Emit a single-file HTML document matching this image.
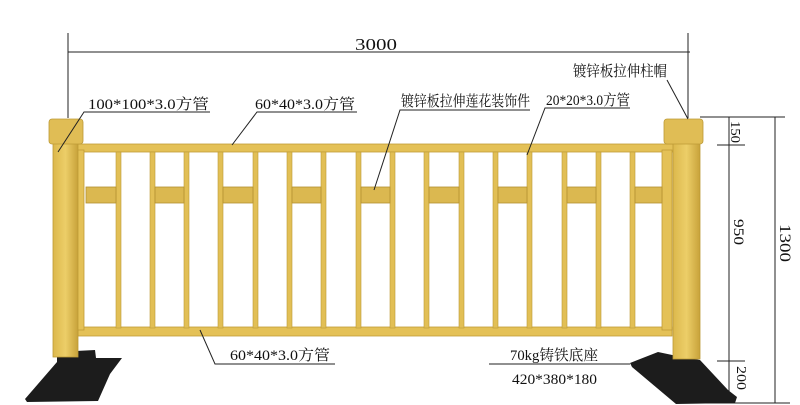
<!DOCTYPE html>
<html><head><meta charset="utf-8"><style>
html,body{margin:0;padding:0;background:#fff;}
svg{display:block}
text{font-family:"Liberation Serif","Noto Serif CJK SC","Noto Sans CJK SC",serif;fill:#111;}
</style></head><body>
<svg width="800" height="405" viewBox="0 0 800 405" xmlns="http://www.w3.org/2000/svg">
<defs>
<linearGradient id="post" x1="0" x2="1"><stop offset="0" stop-color="#dcb84c"/><stop offset="0.5" stop-color="#ecce68"/><stop offset="1" stop-color="#c8a23a"/></linearGradient>
</defs>
<g stroke="#222" stroke-width="1" fill="none">
<line x1="68" y1="33" x2="68" y2="118"/>
<line x1="688" y1="33" x2="688" y2="118"/>
<line x1="68" y1="52" x2="690" y2="52"/>
<line x1="700" y1="117" x2="785" y2="117"/>
<line x1="729" y1="117" x2="729" y2="403"/>
<line x1="775" y1="117" x2="775" y2="403"/>
<line x1="717" y1="145" x2="745" y2="145"/>
<line x1="717" y1="361" x2="745" y2="361"/>
<line x1="700" y1="403" x2="790" y2="403"/>
</g>
<text x="355" y="50" font-size="17" font-family="Liberation Sans" textLength="42" lengthAdjust="spacingAndGlyphs">3000</text>
<text transform="translate(731,121) rotate(90)" font-size="14" textLength="22" lengthAdjust="spacingAndGlyphs">150</text>
<text transform="translate(734,219) rotate(90)" font-size="15" textLength="26" lengthAdjust="spacingAndGlyphs">950</text>
<text transform="translate(780,224) rotate(90)" font-size="16" textLength="38" lengthAdjust="spacingAndGlyphs">1300</text>
<text transform="translate(737,366) rotate(90)" font-size="14" textLength="24" lengthAdjust="spacingAndGlyphs">200</text>

<g fill="#e4c157" stroke="#c09c36" stroke-width="0.8">
<rect x="76" y="144" width="598" height="8"/>
<rect x="78" y="327" width="594" height="9"/>
<rect x="77" y="150" width="7" height="180"/>
<rect x="662" y="150" width="10" height="180"/>
</g>
<g fill="#e2bf55" stroke="#bd9a36" stroke-width="0.6">
<rect x="116" y="152" width="5" height="176"/>
<rect x="150" y="152" width="5" height="176"/>
<rect x="184" y="152" width="5" height="176"/>
<rect x="218" y="152" width="5" height="176"/>
<rect x="253" y="152" width="5" height="176"/>
<rect x="287" y="152" width="5" height="176"/>
<rect x="321" y="152" width="5" height="176"/>
<rect x="356" y="152" width="5" height="176"/>
<rect x="390" y="152" width="5" height="176"/>
<rect x="424" y="152" width="5" height="176"/>
<rect x="459" y="152" width="5" height="176"/>
<rect x="493" y="152" width="5" height="176"/>
<rect x="527" y="152" width="5" height="176"/>
<rect x="562" y="152" width="5" height="176"/>
<rect x="596" y="152" width="5" height="176"/>
<rect x="630" y="152" width="5" height="176"/>
</g>
<g fill="#dbb850" stroke="#b38f30" stroke-width="0.8">
<rect x="86" y="187" width="30" height="16"/>
<rect x="155" y="187" width="29" height="16"/>
<rect x="223" y="187" width="30" height="16"/>
<rect x="292" y="187" width="29" height="16"/>
<rect x="361" y="187" width="29" height="16"/>
<rect x="429" y="187" width="30" height="16"/>
<rect x="498" y="187" width="29" height="16"/>
<rect x="567" y="187" width="29" height="16"/>
<rect x="635" y="187" width="27" height="16"/>
</g>
<polygon points="25,399 57,362 57,352 95,350 96,358 122,358 110,374 98,401 27,402" fill="#1c1c1c"/>
<polygon points="630,363 658,352 677,356 700,360 728,390 737,397 735,403 676,404 632,367" fill="#1c1c1c"/>
<rect x="53" y="143" width="25" height="214" fill="url(#post)" stroke="#bd9a36" stroke-width="0.8"/>
<rect x="49" y="119" width="34" height="25" rx="3" fill="#e0bd55" stroke="#bd9a36" stroke-width="0.8"/>
<rect x="673" y="143" width="27" height="216" fill="url(#post)" stroke="#bd9a36" stroke-width="0.8"/>
<rect x="664" y="119" width="39" height="25" rx="3" fill="#e0bd55" stroke="#bd9a36" stroke-width="0.8"/>

<g stroke="#222" stroke-width="1" fill="none">
<polyline points="58,152 84,112 210,112"/>
<polyline points="232,145 257,112 357,112"/>
<polyline points="374,190 400,110 530,110"/>
<polyline points="527,155 545,108 630,108"/>
<line x1="667" y1="80" x2="688" y2="119"/>
<polyline points="200,330 215,364 335,364"/>
<line x1="489" y1="364" x2="630" y2="364"/>
</g>
<text x="88" y="109" font-size="15" textLength="121" lengthAdjust="spacingAndGlyphs">100*100*3.0方管</text>
<text x="255" y="109" font-size="15" textLength="100" lengthAdjust="spacingAndGlyphs">60*40*3.0方管</text>
<text x="401" y="106" font-size="15" textLength="129" lengthAdjust="spacingAndGlyphs">镀锌板拉伸莲花装饰件</text>
<text x="546" y="105" font-size="15" textLength="84" lengthAdjust="spacingAndGlyphs">20*20*3.0方管</text>
<text x="573" y="76" font-size="15" textLength="94" lengthAdjust="spacingAndGlyphs">镀锌板拉伸柱帽</text>
<text x="230" y="360" font-size="15" textLength="100" lengthAdjust="spacingAndGlyphs">60*40*3.0方管</text>
<text x="510" y="360" font-size="15" textLength="88" lengthAdjust="spacingAndGlyphs">70kg铸铁底座</text>
<text x="512" y="384" font-size="15" textLength="85" lengthAdjust="spacingAndGlyphs">420*380*180</text>
</svg>
</body></html>
